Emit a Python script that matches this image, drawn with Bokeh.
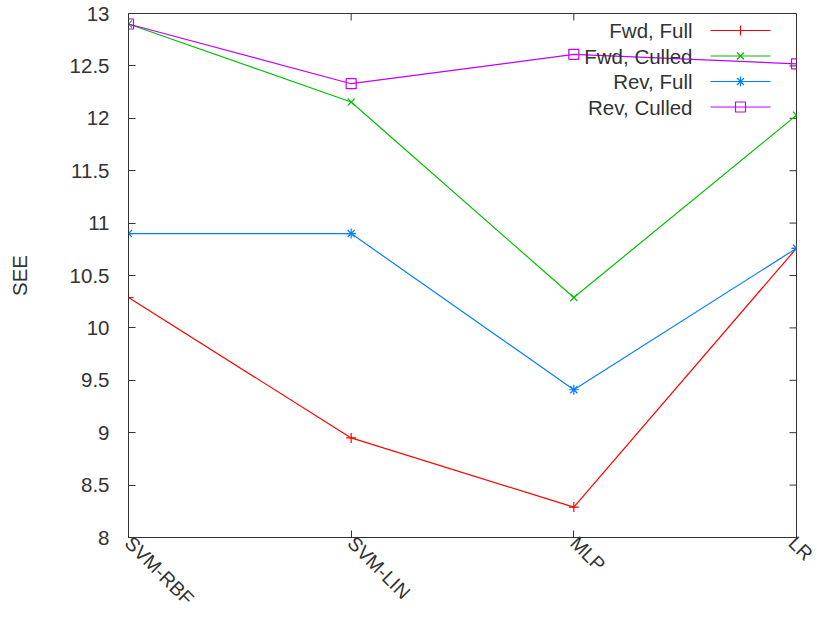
import math
from bokeh.plotting import figure
from bokeh.models import Range1d, FixedTicker, Label
from bokeh.embed import file_html
from bokeh.resources import INLINE

# ---- data ----
categories = ["SVM-RBF", "SVM-LIN", "MLP", "LR"]
fwd_full = [10.29, 8.95, 8.29, 10.76]
fwd_culled = [12.90, 12.155, 10.29, 12.03]
rev_full = [10.90, 10.90, 9.41, 10.76]
rev_culled = [12.90, 12.33, 12.61, 12.52]
series_names = ["Fwd, Full", "Fwd, Culled", "Rev, Full", "Rev, Culled"]
y_ticks = [8, 8.5, 9, 9.5, 10, 10.5, 11, 11.5, 12, 12.5, 13]

# ---- layout ----
W, H = 817, 620
ML, MR, MT, MB = 128, 21, 13, 83
FW, FH = W - ML - MR, H - MT - MB
X0, X1, Y0, Y1 = 0, len(categories) - 1, 8, 13
FONT = "Liberation Sans"
TXT = "#333333"
FS = "20.5px"
TICK = 7

p = figure(width=W, height=H, output_backend="svg", toolbar_location=None,
           x_range=Range1d(X0, X1), y_range=Range1d(Y0, Y1),
           min_border_left=ML, min_border_right=MR,
           min_border_top=MT, min_border_bottom=MB)
p.xgrid.visible = False
p.ygrid.visible = False
p.outline_line_color = TXT
p.outline_line_width = 1
p.background_fill_color = "white"
p.border_fill_color = "white"

xs = list(range(len(categories)))

xa = p.xaxis[0]
xa.ticker = FixedTicker(ticks=xs)
xa.major_label_overrides = {i: c for i, c in enumerate(categories)}
xa.major_label_orientation = -math.pi / 4
xa.major_tick_in = TICK
xa.major_tick_out = 0
xa.minor_tick_line_color = None
xa.axis_line_color = TXT
xa.major_tick_line_color = TXT
xa.major_label_text_font = FONT
xa.major_label_text_font_size = "19.5px"
xa.major_label_text_line_height = 0.8
xa.major_label_text_color = TXT
xa.major_label_standoff = 2

ya = p.yaxis[0]
ya.ticker = FixedTicker(ticks=y_ticks)
ya.major_tick_in = TICK
ya.major_tick_out = 0
ya.minor_tick_line_color = None
ya.axis_line_color = TXT
ya.major_tick_line_color = TXT
ya.major_label_text_font = FONT
ya.major_label_text_font_size = FS
ya.major_label_text_color = TXT
ya.major_label_standoff = 19
ya.axis_label = "SEE"
ya.axis_label_text_font = FONT
ya.axis_label_text_font_size = FS
ya.axis_label_text_font_style = "normal"
ya.axis_label_text_color = TXT
ya.axis_label_standoff = 36

dx = (X1 - X0) * TICK / FW
dy = (Y1 - Y0) * TICK / FH

# mirror ticks on the right and top borders (gnuplot style)
p.segment(x0=[X1] * len(y_ticks), y0=y_ticks, x1=[X1 - dx] * len(y_ticks), y1=y_ticks,
          line_color=TXT, line_width=1)
p.segment(x0=xs, y0=[Y1] * len(xs), x1=xs, y1=[Y1 - dy] * len(xs),
          line_color=TXT, line_width=1)


def px_x(px):
    return X0 + (px - ML) / FW * (X1 - X0)


def px_y(py):
    return Y1 - (py - MT) / FH * (Y1 - Y0)


colors = ["#ff0000", "#00c000", "#0080ff", "#c000ff"]
markers = ["cross", "x", "asterisk", "square"]
all_series = [fwd_full, fwd_culled, rev_full, rev_culled]

# legend (gnuplot style: text on the left, sample on the right)
leg_text_right = 692
leg_line = (710, 770)
leg_mark = 740
leg_rows = [30, 55.5, 81, 106.5]
for name, col, mk, row in zip(series_names, colors, markers, leg_rows):
    p.add_layout(Label(x=px_x(leg_text_right), y=px_y(row), text=name,
                       text_align="right", text_baseline="middle",
                       text_font=FONT, text_font_size=FS, text_color=TXT))
    p.line([px_x(leg_line[0]), px_x(leg_line[1])], [px_y(row), px_y(row)],
           line_color=col, line_width=1.2)
    p.scatter([px_x(leg_mark)], [px_y(row)], marker=mk, size=10,
              line_color=col, fill_color=None, line_width=1.2)

for ys, col, mk in zip(all_series, colors, markers):
    p.line(xs, ys, line_color=col, line_width=1.2)
    p.scatter(xs, ys, marker=mk, size=10, line_color=col, fill_color=None,
              line_width=1.2)

open("out.html", "w").write(file_html(p, INLINE))
